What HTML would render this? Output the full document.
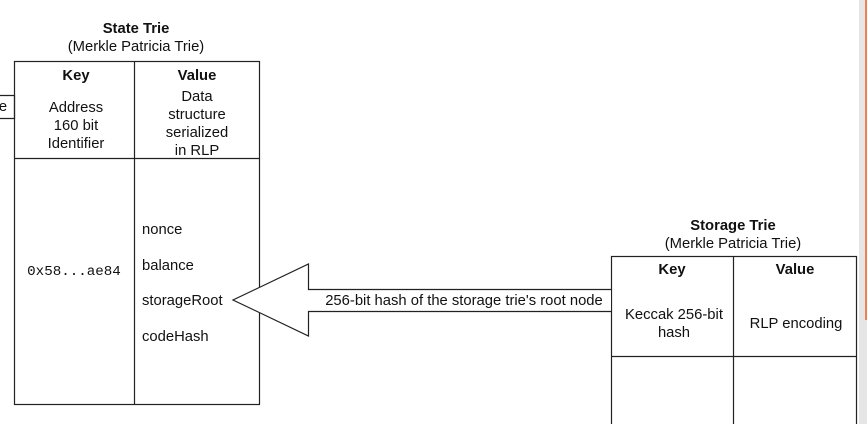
<!DOCTYPE html>
<html><head><style>
body{margin:0;width:867px;height:424px;overflow:hidden;background:#fff;position:relative;font-family:"Liberation Sans",Arial,sans-serif;color:#111;}
</style></head><body>
<div style="position:absolute;left:859px;top:0;width:8px;height:424px;background:#e6e6e6"></div>
<div style="position:absolute;left:865px;top:0;width:2px;height:320px;background:#f08050"></div>
<svg width="867" height="424" style="position:absolute;left:0;top:0" font-family="Liberation Sans, Arial, sans-serif" font-size="14.8" fill="none">
<g stroke="#222" stroke-width="1.2">
<rect x="14.5" y="61.5" width="245" height="343"/>
<line x1="134.5" y1="61" x2="134.5" y2="404"/>
<line x1="14" y1="158.5" x2="259" y2="158.5"/>
<path d="M0 95.5H14.5V118.5H0"/>
<rect x="611.5" y="256.5" width="245" height="180"/>
<line x1="733.5" y1="256" x2="733.5" y2="424"/>
<line x1="611" y1="356.5" x2="856" y2="356.5"/>
<path d="M611 289.5H308.5V264L233 300L308.5 336V311.5H611" fill="#fff"/>
</g>
<g fill="#111" text-anchor="middle">
<text x="136" y="33" font-weight="bold">State Trie</text>
<text x="136" y="51">(Merkle Patricia Trie)</text>
<text x="76" y="80" font-weight="bold">Key</text>
<text x="197" y="80" font-weight="bold">Value</text>
<text x="76" y="112">Address</text>
<text x="76" y="130">160 bit</text>
<text x="76" y="148">Identifier</text>
<text x="197" y="101">Data</text>
<text x="197" y="119">structure</text>
<text x="197" y="137">serialized</text>
<text x="197" y="155">in RLP</text>
<text x="3" y="111">e</text>
<text x="74" y="275" font-family="Liberation Mono, monospace" font-size="14.2">0x58...ae84</text>
<text x="733" y="230" font-weight="bold">Storage Trie</text>
<text x="733" y="248">(Merkle Patricia Trie)</text>
<text x="672" y="274" font-weight="bold">Key</text>
<text x="795" y="274" font-weight="bold">Value</text>
<text x="674" y="319">Keccak 256-bit</text>
<text x="674" y="337">hash</text>
<text x="796" y="328">RLP encoding</text>
<text x="464" y="305">256-bit hash of the storage trie's root node</text>
</g>
<g fill="#111">
<text x="142" y="234">nonce</text>
<text x="142" y="270">balance</text>
<text x="142" y="305">storageRoot</text>
<text x="142" y="341">codeHash</text>
</g>
</svg>
</body></html>
